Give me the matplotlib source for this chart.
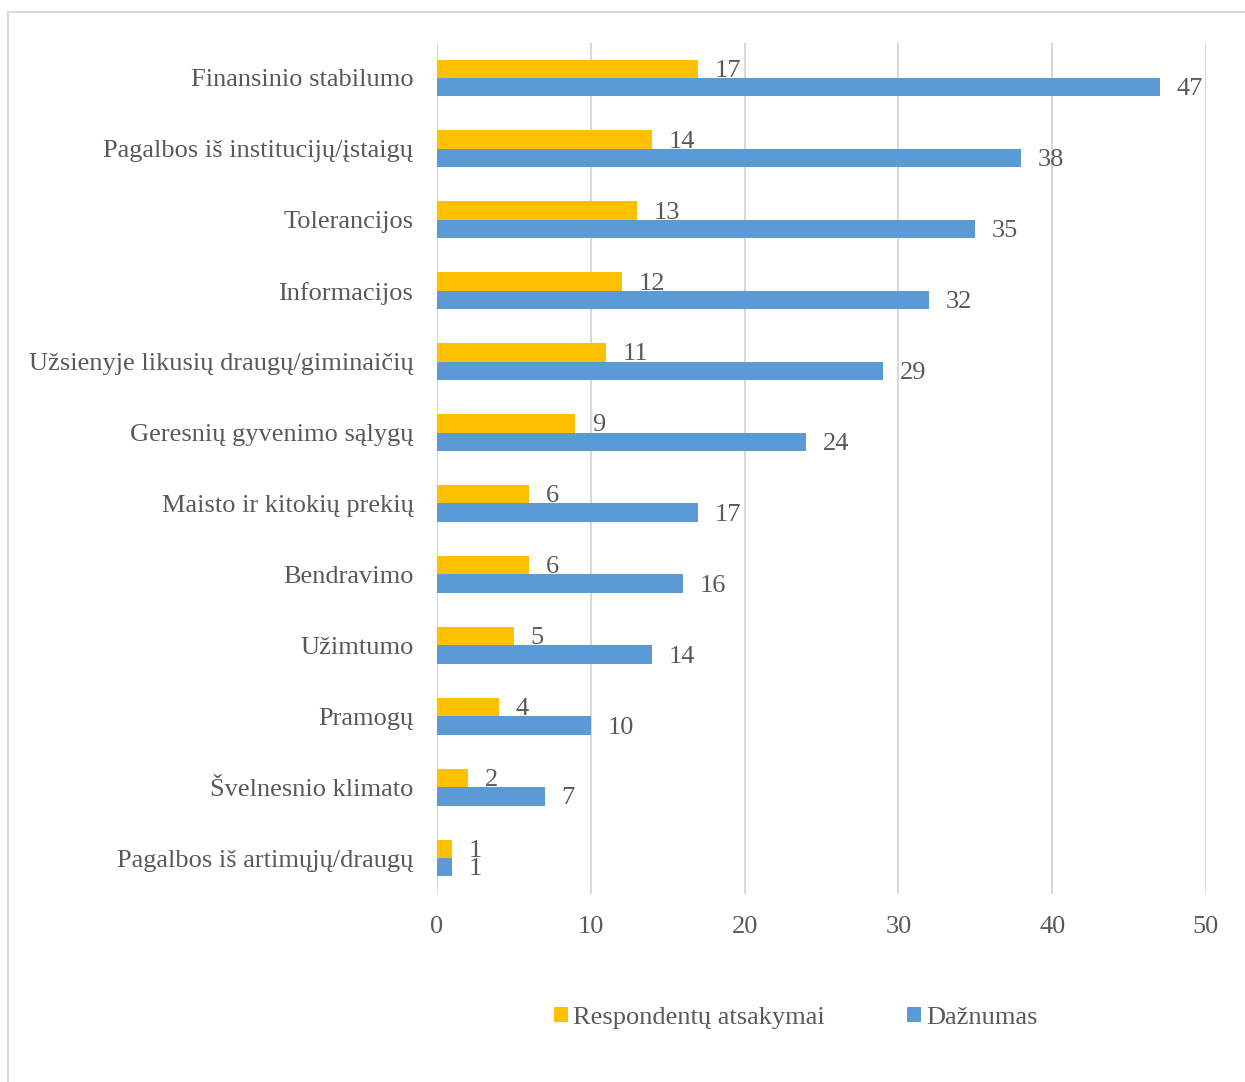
import numpy as np
import matplotlib.pyplot as plt
from matplotlib.patches import Rectangle

# Duomenys
kategorijos = [
    "Finansinio stabilumo",
    "Pagalbos iš institucijų/įstaigų",
    "Tolerancijos",
    "Informacijos",
    "Užsienyje likusių draugų/giminaičių",
    "Geresnių gyvenimo sąlygų",
    "Maisto ir kitokių prekių",
    "Bendravimo",
    "Užimtumo",
    "Pramogų",
    "Švelnesnio klimato",
    "Pagalbos iš artimųjų/draugų",
]
atsakymai = [17, 14, 13, 12, 11, 9, 6, 6, 5, 4, 2, 1]
daznumas = [47, 38, 35, 32, 29, 24, 17, 16, 14, 10, 7, 1]
x_ticks = [0, 10, 20, 30, 40, 50]

geltona = "#FFC000"
melyna = "#5B9BD5"
tekstas = "#595959"
tinklelis = "#D9D9D9"
fs = 19

plt.rcParams["font.family"] = ["Liberation Serif", "DejaVu Serif"]

fig = plt.figure(figsize=(12.45, 10.82), dpi=100)
ax = fig.add_axes([437 / 1245, 1 - 893.5 / 1082, (1206 - 437) / 1245, 851 / 1082])

# Remelis aplink diagrama
fig.patches.append(Rectangle((8 / 1245, -0.05), 1.2, 1.05 - 12 / 1082,
                             transform=fig.transFigure, fill=False,
                             edgecolor=tinklelis, linewidth=1.5))

y = np.arange(len(kategorijos))
h = 0.26
b1 = ax.barh(y - h / 2, atsakymai, height=h, color=geltona, label="Respondentų atsakymai")
b2 = ax.barh(y + h / 2, daznumas, height=h, color=melyna, label="Dažnumas")

for bars, vals in ((b1, atsakymai), (b2, daznumas)):
    for bar, v in zip(bars, vals):
        ax.annotate(str(v), (bar.get_width(), bar.get_y() + bar.get_height() / 2),
                    xytext=(12, -1.5), textcoords="offset points",
                    ha="left", va="center", fontsize=fs, color=tekstas)

ax.set_ylim(len(kategorijos) - 0.5, -0.5)
ax.set_xlim(0, 50)
ax.set_xticks(x_ticks)
ax.set_yticks(y)
ax.set_yticklabels(kategorijos)
ax.tick_params(axis="both", length=0, labelsize=fs, colors=tekstas)
ax.tick_params(axis="y", pad=17)
ax.tick_params(axis="x", pad=16)
for s in ax.spines.values():
    s.set_visible(False)
ax.grid(axis="x", color=tinklelis, linewidth=1.5)
ax.set_axisbelow(True)

fig.legend(loc="center", bbox_to_anchor=(796 / 1245, 1 - 1018 / 1082), ncol=2,
           frameon=False, fontsize=fs, handlelength=0.53, handleheight=0.53,
           handletextpad=0.2, columnspacing=3.1, labelcolor=tekstas)

fig.savefig("out.png", dpi=100)
